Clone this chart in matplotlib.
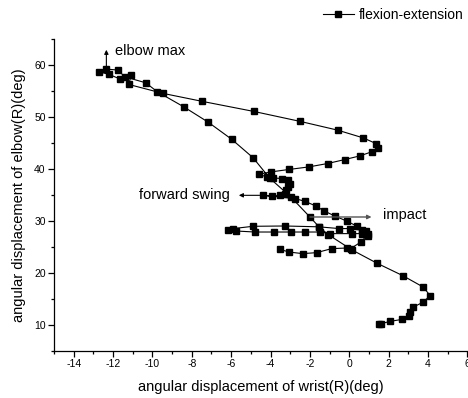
import numpy as np
import matplotlib
matplotlib.use("Agg")
import matplotlib.pyplot as plt
from matplotlib.ticker import MultipleLocator

plt.rcParams['font.family'] = ['Liberation Sans', 'DejaVu Sans']
plt.rcParams['axes.unicode_minus'] = False

# wrist (x) and elbow (y) angular displacement, in time order
wrist = [1.50, 1.61, 2.06, 2.67, 3.05, 3.08, 3.25, 3.73, 4.11, 3.76, 2.72, 1.39,
         0.13, -1.07, -1.53, -2.00, -2.97, -4.04, -4.89, -5.98, -7.17, -8.41,
         -9.75, -10.34, -11.41, -11.75, -12.34, -12.71, -12.21, -11.63, -11.07,
         -11.21, -9.46, -7.46, -4.85, -2.48, -0.59, 0.71, 1.35, 1.47, 1.13, 0.54,
         -0.22, -1.10, -2.05, -3.07, -3.99, -4.58, -4.20, -3.87, -3.44, -3.11,
         -3.02, -3.11, -3.19, -3.27, -3.53, -3.95, -4.38, -2.77, -2.26, -1.70,
         -1.28, -0.73, -0.14, 0.37, 0.84, 0.96, 0.64, 0.12, -0.99, -1.49, -2.26,
         -2.98, -3.83, -4.80, -5.73, -6.16, -5.90, -4.89, -3.27, -1.55, -0.51,
         0.03, 0.64, 0.95, 0.59, 0.07, -0.14, -0.90, -1.66, -2.37, -3.06, -3.53]
elbow = [10.15, 10.19, 10.64, 11.02, 11.60, 12.43, 13.39, 14.30, 15.59, 17.24,
         19.44, 21.87, 24.41, 27.34, 28.81, 30.73, 34.59, 38.19, 42.14, 45.70,
         48.98, 51.93, 54.82, 56.55, 57.71, 59.00, 59.19, 58.67, 58.17, 57.26,
         58.03, 56.24, 54.51, 52.97, 51.04, 49.11, 47.44, 45.95, 44.87, 44.03,
         43.26, 42.49, 41.79, 41.02, 40.37, 39.87, 39.40, 38.96, 38.44, 38.25,
         38.13, 37.80, 37.17, 36.51, 35.87, 35.24, 34.91, 34.72, 34.91, 34.28,
         33.76, 32.85, 31.89, 30.92, 29.96, 29.00, 27.98, 27.07, 27.53, 27.53,
         27.53, 27.84, 27.84, 27.84, 27.84, 27.84, 28.03, 28.30, 28.50, 28.94,
         29.00, 28.84, 28.50, 28.50, 28.17, 27.40, 25.92, 24.64, 24.76, 24.64,
         23.87, 23.68, 23.99, 24.51]

fig = plt.figure(figsize=(4.68, 3.98), dpi=100)
ax = fig.add_axes([0.1154, 0.1188, 0.8833, 0.7835])

ax.plot(wrist, elbow, '-s', color='black', lw=0.8, ms=4.3,
        label='flexion-extension')

ax.set_xlim(-15, 6)
ax.set_ylim(5, 65)
ax.xaxis.set_major_locator(MultipleLocator(2))
ax.xaxis.set_minor_locator(MultipleLocator(1))
ax.yaxis.set_major_locator(MultipleLocator(10))
ax.yaxis.set_minor_locator(MultipleLocator(5))
ax.set_yticks([10, 20, 30, 40, 50, 60])
ax.tick_params(which='major', direction='out', length=4, width=0.9, labelsize=7.5, pad=2)
ax.tick_params(which='minor', direction='out', length=2.5, width=0.9)
for s in ['top', 'right']:
    ax.spines[s].set_visible(False)
for s in ['left', 'bottom']:
    ax.spines[s].set_linewidth(0.9)

ax.set_xlabel('angular displacement of wrist(R)(deg)', fontsize=10.5, labelpad=8)
ax.set_ylabel('angular displacement of elbow(R)(deg)', fontsize=10.5, labelpad=6)

ax.annotate('', xy=(-12.34, 62.9), xytext=(-12.34, 59.5),
            arrowprops=dict(arrowstyle='-|>', color='black', lw=0.8,
                            mutation_scale=6, shrinkA=0, shrinkB=0))
ax.text(-11.88, 62.7, 'elbow max', fontsize=10.5, va='center', ha='left')

ax.annotate('', xy=(-5.61, 34.9), xytext=(-4.55, 34.9),
            arrowprops=dict(arrowstyle='-|>', color='black', lw=0.8,
                            mutation_scale=6, shrinkA=0, shrinkB=0))
ax.text(-6.07, 34.9, 'forward swing', fontsize=10.5, va='center', ha='right')

ax.annotate('', xy=(1.13, 30.73), xytext=(-2.0, 30.73),
            arrowprops=dict(arrowstyle='-|>', color='#555555', lw=1.0,
                            mutation_scale=6, shrinkA=0, shrinkB=0))
ax.text(1.72, 31.2, 'impact', fontsize=10.5, va='center', ha='left')

fig.legend(loc='center right', bbox_to_anchor=(0.99, 0.962), frameon=False,
           fontsize=10, handlelength=2.2, handletextpad=0.35, borderpad=0,
           borderaxespad=0)

fig.savefig('out.png', dpi=100)
